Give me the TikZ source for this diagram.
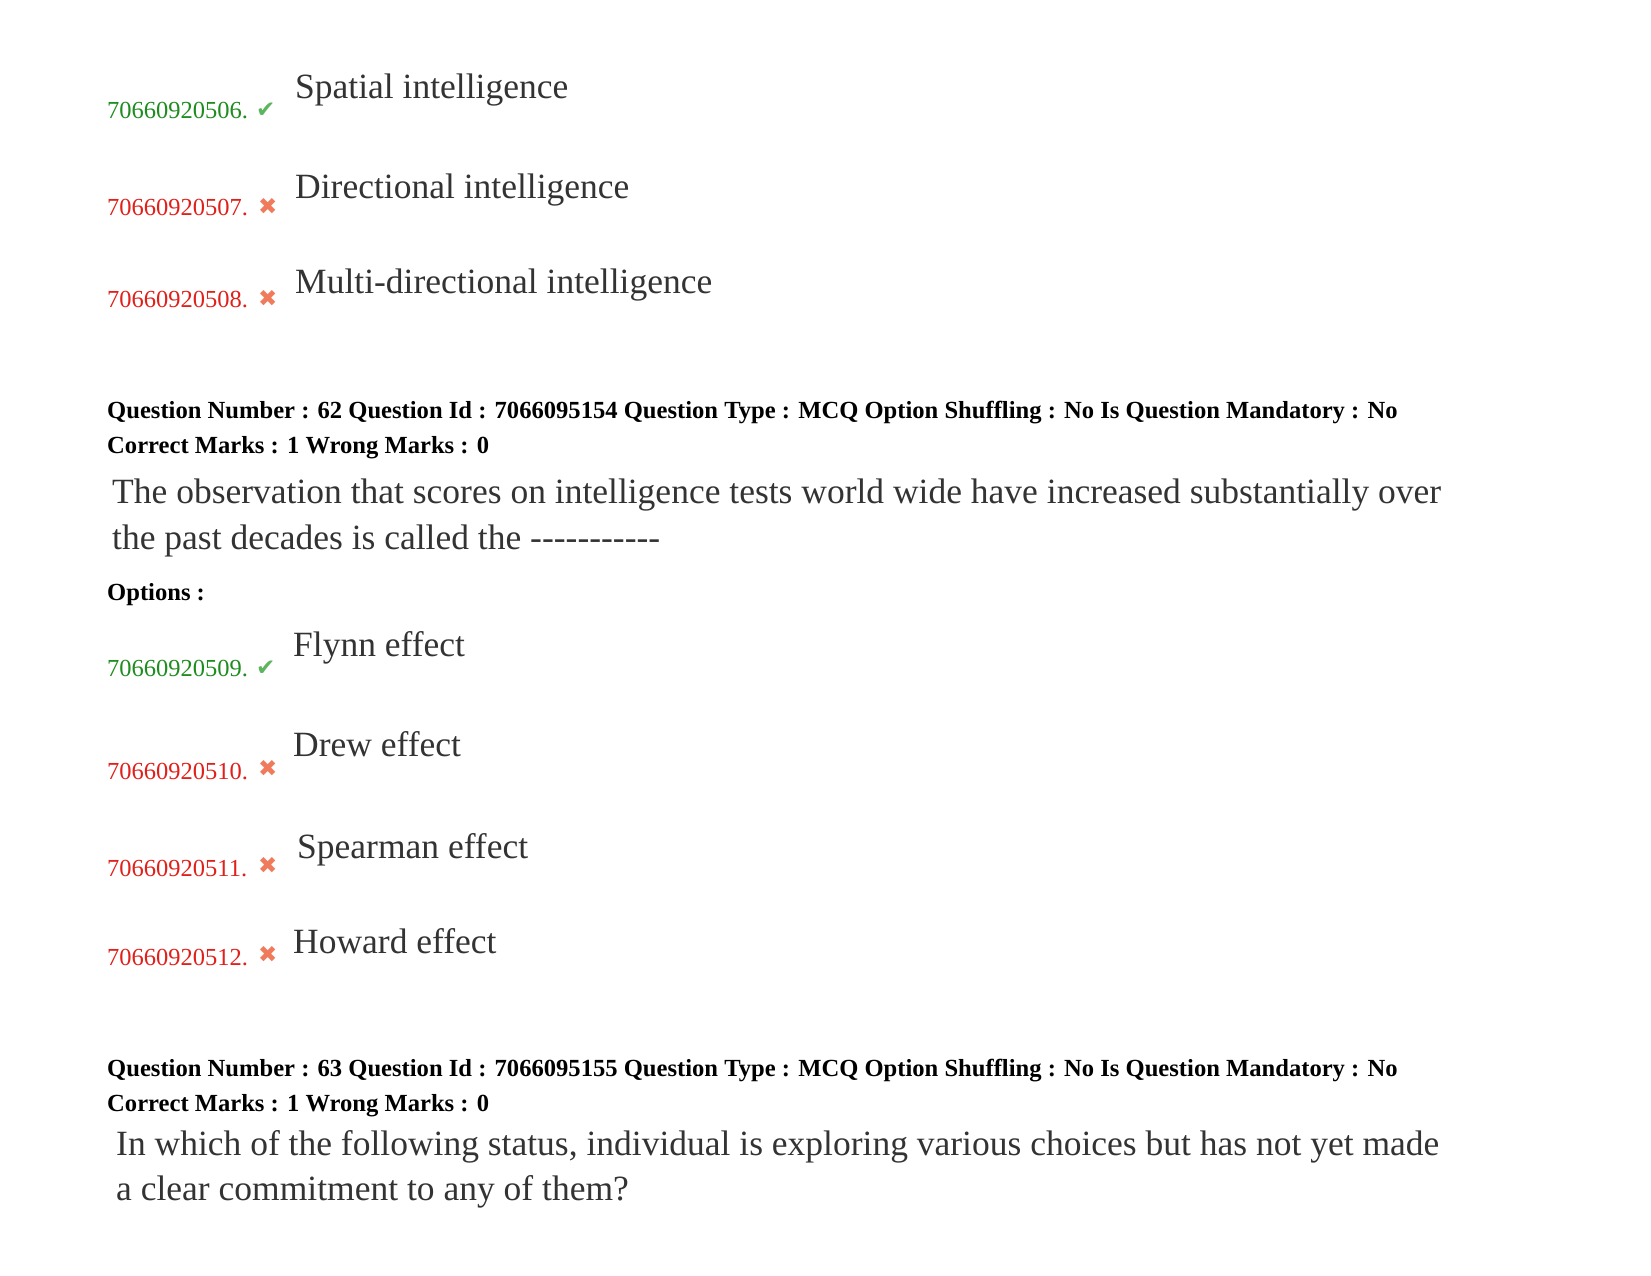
\documentclass[tikz,border=0pt]{standalone}
\usepackage{fontspec}
\setmainfont{Liberation Serif}
\newfontfamily\symf{DejaVu Sans}
\definecolor{okg}{HTML}{1E8C1E}
\definecolor{badr}{HTML}{E0201A}
\definecolor{tick}{HTML}{5DB55D}
\definecolor{crs}{HTML}{F07A5C}
\definecolor{qtxt}{HTML}{333333}
\tikzset{
 num/.style={anchor=base west,inner sep=0pt,font=\fontsize{24.5}{28}\selectfont},
 opt/.style={anchor=base west,inner sep=0pt,text=qtxt,font=\fontsize{35.5}{40}\selectfont},
 hdr/.style={anchor=base west,inner sep=0pt,font=\fontsize{24.6}{28}\selectfont\bfseries},
 mk/.style={anchor=base west,inner sep=0pt,font=\symf\fontsize{23}{25}\selectfont},
}
\begin{document}
\begin{tikzpicture}[x=1pt,y=-1pt]
\useasboundingbox (0,0) rectangle (1651,1275);
\node[num,text=okg] (n1) at (107,118) {70660920506.};
\node[mk,text=tick] (m1) at (256,117) {✔};
\node[opt] (o1) at (295,98) {Spatial intelligence};
\node[num,text=badr] (n2) at (107,215) {70660920507.};
\node[mk,text=crs] (m2) at (258,214) {✖};
\node[opt] (o2) at (295,198) {Directional intelligence};
\node[num,text=badr] (n3) at (107,307) {70660920508.};
\node[mk,text=crs] (m3) at (258,306) {✖};
\node[opt] (o3) at (295,293) {Multi-directional intelligence};
\node[hdr] (h1) at (107,418) {Question Number : 62 Question Id : 7066095154 Question Type : MCQ Option Shuffling : No Is Question Mandatory : No};
\node[hdr] (h2) at (107,453) {Correct Marks : 1 Wrong Marks : 0};
\node[opt] (q1) at (112,503) {The observation that scores on intelligence tests world wide have increased substantially over};
\node[opt] (q2) at (112,549) {the past decades is called the {-}{-}{-}{-}{-}{-}{-}{-}{-}{-}{-}};
\node[hdr] (op) at (107,600) {Options :};
\node[num,text=okg] (n4) at (107,676) {70660920509.};
\node[mk,text=tick] (m4) at (256,675) {✔};
\node[opt] (o4) at (293,656) {Flynn effect};
\node[num,text=badr] (n5) at (107,779) {70660920510.};
\node[mk,text=crs] (m5) at (258,776) {✖};
\node[opt] (o5) at (293,756) {Drew effect};
\node[num,text=badr] (n6) at (107,876) {70660920511.};
\node[mk,text=crs] (m6) at (258,873) {✖};
\node[opt] (o6) at (297,858) {Spearman effect};
\node[num,text=badr] (n7) at (107,965) {70660920512.};
\node[mk,text=crs] (m7) at (258,962) {✖};
\node[opt] (o7) at (293,953) {Howard effect};
\node[hdr] (h3) at (107,1076) {Question Number : 63 Question Id : 7066095155 Question Type : MCQ Option Shuffling : No Is Question Mandatory : No};
\node[hdr] (h4) at (107,1111) {Correct Marks : 1 Wrong Marks : 0};
\node[opt] (q3) at (116,1155) {In which of the following status, individual is exploring various choices but has not yet made};
\node[opt] (q4) at (116,1200) {a clear commitment to any of them?};
\end{tikzpicture}
\end{document}
